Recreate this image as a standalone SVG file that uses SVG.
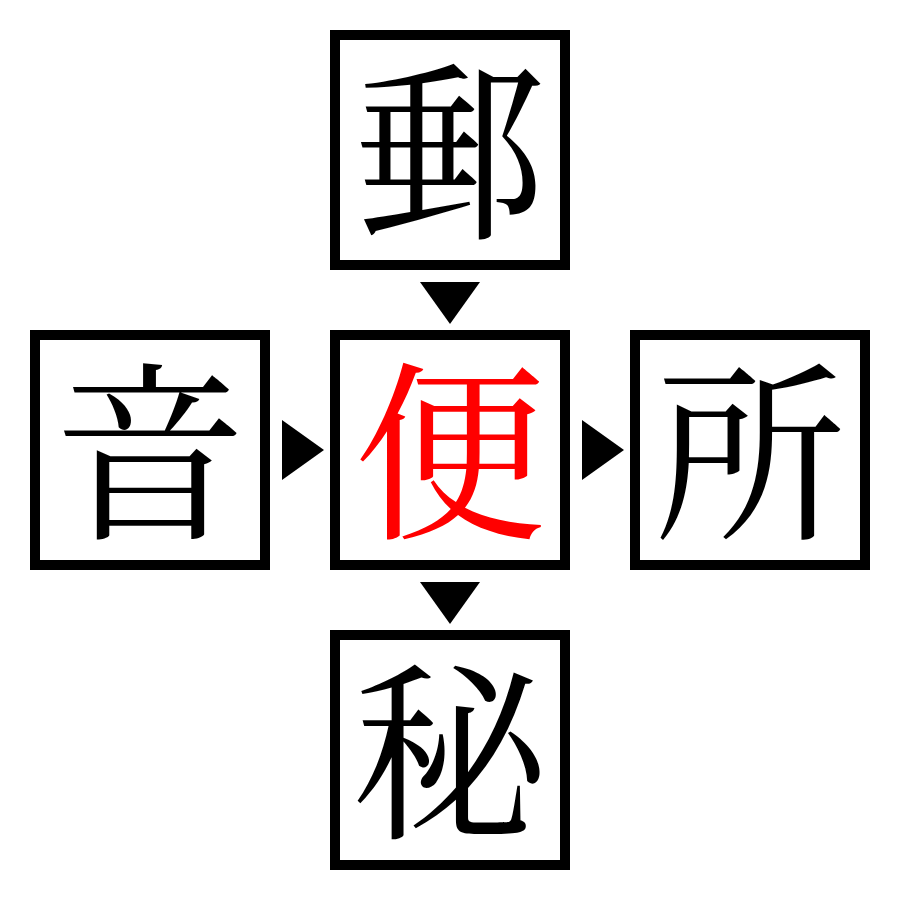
<svg xmlns="http://www.w3.org/2000/svg" width="900" height="900" viewBox="0 0 900 900">
<style>
.box{fill:#fff;stroke:#000;stroke-width:10}
.ch{font-family:"Noto Serif CJK JP","Noto Sans CJK JP",serif;font-size:192px;text-anchor:middle}
.arr{fill:#000}
</style>
<rect width="900" height="900" fill="#fff"/>
<g id="node-top"><rect class="box" x="335" y="35" width="230" height="230"/><text class="ch" x="450" y="224">郵</text></g>
<g id="node-left"><rect class="box" x="35" y="335" width="230" height="230"/><text class="ch" x="150" y="524">音</text></g>
<g id="node-center"><rect class="box" x="335" y="335" width="230" height="230"/><text class="ch" x="450" y="524" fill="#ff0000">便</text></g>
<g id="node-right"><rect class="box" x="635" y="335" width="230" height="230"/><text class="ch" x="750" y="524">所</text></g>
<g id="node-bottom"><rect class="box" x="335" y="635" width="230" height="230"/><text class="ch" x="450" y="824">秘</text></g>
<g id="connectors">
<polygon class="arr" points="420,282 480,282 450,324"/>
<polygon class="arr" points="282,420 282,480 324,450"/>
<polygon class="arr" points="582,420 582,480 624,450"/>
<polygon class="arr" points="420,582 480,582 450,624"/>
</g>
</svg>
